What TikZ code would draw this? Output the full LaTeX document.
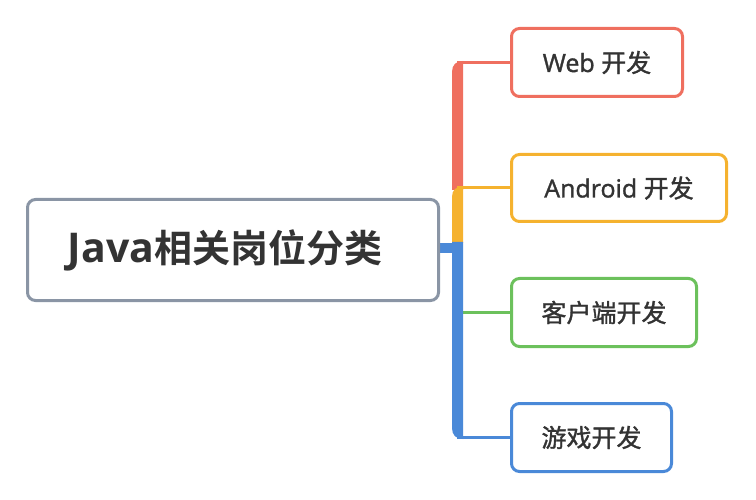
\documentclass[tikz,border=0pt]{standalone}
\usepackage{fontspec}
\setmainfont{Open Sans}
\newfontfamily\latm[FakeBold=1.3]{Open Sans}
\newfontfamily\cjk[FakeBold=1.3]{Noto Sans CJK SC}
\newfontfamily\cjkb{Noto Sans CJK SC Bold}
\usetikzlibrary{backgrounds}
\definecolor{redc}{HTML}{EF6F5F}
\definecolor{orangec}{HTML}{F5B22F}
\definecolor{greenc}{HTML}{6CC15C}
\definecolor{bluec}{HTML}{4A89D8}
\definecolor{grayc}{HTML}{8A95A5}
\definecolor{textc}{HTML}{333333}
\begin{document}
\begin{tikzpicture}[x=1pt,y=-1pt,
  box/.style={draw, line width=3pt, rounded corners=8pt, fill=white, inner sep=0pt,
    text=textc, font=\latm\fontsize{25}{25}\selectfont},
  thin/.style={line width=3pt}]
\useasboundingbox (0,0) rectangle (756,500);
\node[box, draw=grayc, minimum width=411pt, minimum height=101pt] (root) at (233,250) {};
\node[text=textc, inner sep=0pt] (roottext) at (225,250)
  {{\bfseries\fontsize{41}{41}\selectfont Java}{\cjkb\fontsize{38}{38}\selectfont 相关岗位分类}};
\node[box, draw=redc, minimum width=171pt, minimum height=68pt] (web) at (597,62.5) {Web {\cjk 开发}};
\node[box, draw=orangec, minimum width=215pt, minimum height=67pt] (android) at (619,188) {Android {\cjk 开发}};
\node[box, draw=greenc, minimum width=185pt, minimum height=68pt] (client) at (604,312.5) {\cjk 客户端开发};
\node[box, draw=bluec, minimum width=160pt, minimum height=68pt] (game) at (591.5,437.5) {\cjk 游戏开发};
\coordinate (hub) at (457,248);
\coordinate (tweb) at (457,62.5);
\coordinate (tandroid) at (457,188);
\coordinate (tclient) at (457,312.5);
\coordinate (tgame) at (457,437.5);
\begin{scope}[on background layer]
  % red
  \fill[redc] (452,190) -- (452,72) .. controls (452,65) and (456,61) .. (463,61) -- (463,190) -- cycle;
  \draw[redc, thin] (tweb) -- (web.west);
  % orange
  \fill[orangec] (452,243) -- (452,197) .. controls (452,190) and (456,186.5) .. (463,186.5) -- (463,243) -- cycle;
  \draw[orangec, thin] (tandroid) -- (android.west);
  % green
  \draw[greenc, thin] (tclient) -- (client.west);
  % blue
  \fill[bluec] (452,242) -- (452,428) .. controls (452,435) and (456,439) .. (463,439) -- (463,242) -- cycle;
  \draw[bluec, thin] (tgame) -- (game.west);
  \draw[bluec, line width=10pt] (root.east |- hub) -- (hub);
\end{scope}
\end{tikzpicture}
\end{document}
